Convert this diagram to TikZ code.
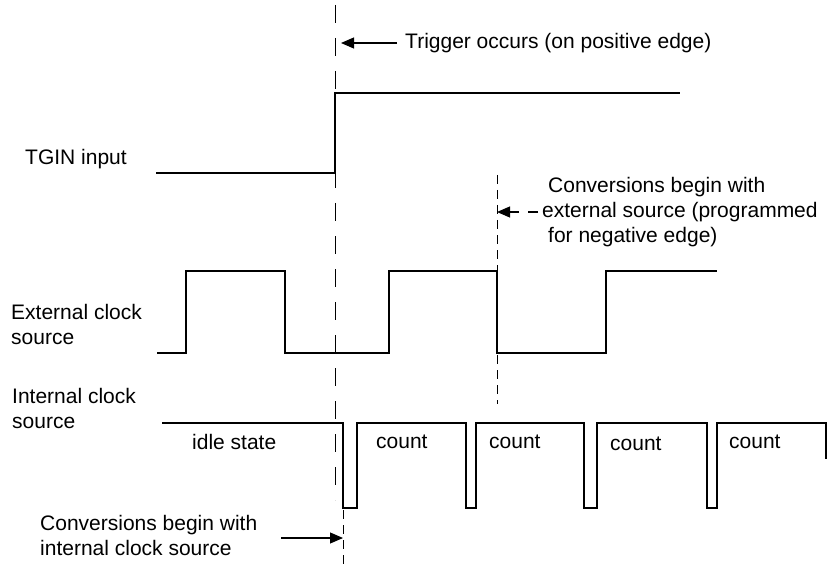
\documentclass[tikz,border=0pt]{standalone}
\usepackage{fontspec}
\setmainfont{Liberation Sans}
\usetikzlibrary{arrows.meta}
\begin{document}
\begin{tikzpicture}[x=1pt,y=-1pt,
  wave/.style={line width=1.1pt,line join=miter},
  guide/.style={line width=1pt,dash pattern=on 18pt off 15pt},
  guideshort/.style={line width=1pt,dash pattern=on 9pt off 6pt},
  lbl/.style={anchor=base west,inner sep=0pt,font=\fontsize{21}{25}\selectfont},
  pointer/.style={line width=1.1pt,-{Triangle[length=13pt,width=11pt]}},
  dpointer/.style={line width=1.1pt,dash pattern=on 10pt off 9pt,-{Triangle[length=13pt,width=11pt]}}]
\useasboundingbox (0,0) rectangle (836,567);
% guide lines
\draw[guide] (335,5) -- (335,500);
\draw[guideshort] (343,510) -- (343,567);
\draw[guideshort] (497,175) -- (497,404);
% TGIN
\draw[wave] (156,173) -- (335,173) -- (335,93) -- (680,93);
% External clock
\draw[wave] (157,353) -- (186,353) -- (186,271) -- (285,271) -- (285,353)
  -- (389,353) -- (389,271) -- (497,271) -- (497,353) -- (606,353)
  -- (606,271) -- (717,271);
% Internal clock
\draw[wave] (162,423) -- (343,423) -- (343,508) -- (357,508) -- (357,423)
  -- (466,423) -- (466,508) -- (476,508) -- (476,423) -- (584,423)
  -- (584,508) -- (597,508) -- (597,423) -- (707,423) -- (707,508)
  -- (717,508) -- (717,423) -- (826,423) -- (826,459);
% labels
\node[lbl] (tgin) at (25,165) {TGIN input};
\node[lbl] (ext1) at (11,319) {External clock};
\node[lbl] (ext2) at (11,344) {source};
\node[lbl] (int1) at (12,403) {Internal clock};
\node[lbl] (int2) at (12,428) {source};
\node[lbl] (idle) at (192,449) {idle state};
\node[lbl] (c1) at (376,448) {count};
\node[lbl] (c2) at (489,448) {count};
\node[lbl] (c3) at (610,450) {count};
\node[lbl] (c4) at (729,448) {count};
\node[lbl] (trig) at (405,49) {Trigger occurs (on positive edge)};
\node[lbl] (ce1) at (548,193) {Conversions begin with};
\node[lbl] (ce2) at (542,218) {external source (programmed};
\node[lbl] (ce3) at (548,243) {for negative edge)};
\node[lbl] (ci1) at (40,530) {Conversions begin with};
\node[lbl] (ci2) at (40,555) {internal clock source};
% pointers
\coordinate (trigtail) at (397,43);
\coordinate (trigtip) at (341,43);
\coordinate (exttail) at (538,212);
\coordinate (exttip) at (497,212);
\coordinate (inttail) at (281,538);
\coordinate (inttip) at (343,538);
\draw[pointer] (trigtail) -- (trigtip);
\draw[dpointer] (exttail) -- (exttip);
\draw[pointer] (inttail) -- (inttip);
\end{tikzpicture}
\end{document}
